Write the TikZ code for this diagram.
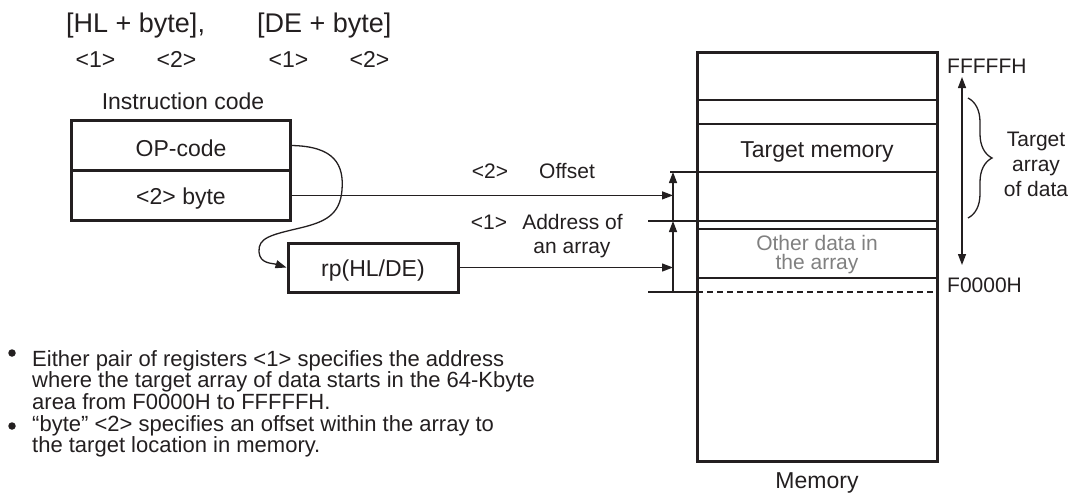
\documentclass[tikz,border=0pt]{standalone}
\usepackage{fontspec}
\setmainfont{Liberation Sans}
\usepackage{xcolor}
\definecolor{ink}{HTML}{231F20}
\definecolor{dim}{HTML}{808080}
\usetikzlibrary{positioning, arrows.meta, decorations.pathreplacing}

\begin{document}
\begin{tikzpicture}[x=1pt, y=-1pt,
  every node/.style={inner sep=0pt, text=ink},
  big/.style={font=\fontsize{27}{30}\selectfont},
  txt/.style={font=\fontsize{23}{25}\selectfont},
  note/.style={font=\fontsize{22}{21.7}\selectfont, align=left},
  lbl/.style={font=\fontsize{21}{24}\selectfont},
  tag/.style={txt, text height=20pt, text depth=2pt},
  cell/.style={tag, draw=ink, line width=1.4pt, minimum width=218pt, minimum height=49pt},
  frame/.style={draw=ink, line width=3pt},
  row/.style={draw=ink, line width=1.4pt},
  flow/.style={draw=ink, line width=1.3pt, -{Triangle[length=11pt, width=8pt]}},
  twoway/.style={flow, {Triangle[length=11pt, width=8pt]}-{Triangle[length=11pt, width=8pt]}},
  curly/.style={draw=ink, line width=1.3pt, decorate, decoration={brace, amplitude=24pt}}
]
\useasboundingbox (0,0) rectangle (1073,495);
% --- operand syntax ---
\node[big, anchor=base west] (hl) at (66,33) {[HL + byte],};
\node[big, anchor=base west] (de) at (257,33) {[DE + byte]};
\node[txt, anchor=base] (hl1) at (95.5,67) {<1>};
\node[txt, anchor=base] (hl2) at (176.5,67) {<2>};
\node[txt, anchor=base] (de1) at (288.5,67) {<1>};
\node[txt, anchor=base] (de2) at (369.5,67) {<2>};
\node[txt, anchor=base] (ic) at (183,109) {Instruction code};
% --- instruction code ---
\node[cell, text height=24pt] (op) at (181,145.5) {OP-code};
\node[cell, minimum height=48pt, below=0pt of op] (byte) {<2> byte};
\draw[frame] (op.north west) rectangle (byte.south east);
\node[cell, frame, minimum width=170pt] (rp) at (373,267.5) {rp(HL/DE)};
\draw[flow] (op.east) .. controls (335,146) and (344,165) .. (342,190)
  .. controls (340,215) and (325,222) .. (300,228)
  .. controls (270,235) and (258,238) .. (259,252)
  .. controls (260,264) and (272,263) .. (rp.west);
% --- memory ---
\node[frame, minimum width=240pt, minimum height=408pt] (mem) at (817,257) {};
\foreach \yy in {100,124,229,278}
  \draw[row] (697,\yy) -- (937,\yy);
\draw[row] (670,172) -- (937,172);
\draw[row, line width=2pt] (648,221) -- (937,221);
\draw[row] (648,292) -- (697,292);
\draw[row, dash pattern=on 6pt off 4pt] (697,292) -- (937,292);
\node[tag] (tm) at (817,148) {Target memory};
\node[lbl, align=center, text=dim, font=\fontsize{21}{19}\selectfont] (other) at (817,255) {Other data in\\the array};
\node[txt, below=10pt of mem] (memlbl) {Memory};
\node[lbl, anchor=base west] (top) at (947,74) {FFFFFH};
\node[lbl, anchor=base west] (bot) at (947,292) {F0000H};
\coordinate (ftop) at (962,77);
\coordinate (fbot) at (962,265);
\draw[twoway] (ftop) -- (fbot);
\draw[curly] (968,98) -- (968,218);
\node[lbl, align=center, font=\fontsize{21}{25}\selectfont] (tad) at (1036,164) {Target\\array\\of data};
% --- address arrows ---
\coordinate (lo) at (673,292);
\coordinate (mid) at (673,221);
\coordinate (hi) at (673,172);
\draw[flow] (lo) -- (mid);
\draw[flow] (mid) -- (hi);
\draw[flow] (byte.east) -- (byte.east -| hi);
\draw[flow] (rp.east) -- (rp.east -| hi);
\node[lbl, anchor=base] (n2) at (490,178) {<2>};
\node[lbl, anchor=base] (offs) at (567,178) {Offset};
\node[lbl, anchor=base] (n1) at (489,229) {<1>};
\node[lbl, anchor=base] (addr) at (572.5,229) {Address of};
\node[lbl, anchor=base] (arr) at (572,253) {an array};
% --- notes ---
\node[circle, fill=ink, minimum size=7.5pt] (b1) at (12,353) {};
\node[note, anchor=north west] (t1) at (32,350) {Either pair of registers <1> specifies the address\\where the target array of data starts in the 64-Kbyte\\area from F0000H to FFFFFH.};
\node[circle, fill=ink, minimum size=7.5pt] (b2) at (12,426) {};
\node[note, anchor=north west] (t2) at (32,415) {“byte” <2> specifies an offset within the array to\\the target location in memory.};
\end{tikzpicture}
\end{document}
